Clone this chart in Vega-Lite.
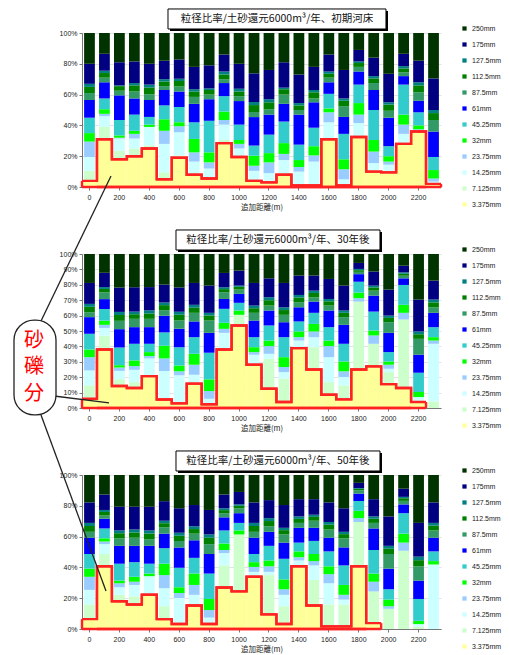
{
"$schema":"https://vega.github.io/schema/vega-lite/v6.json",
"background":"white",
"padding":{"left":13,"top":8,"right":4,"bottom":2},
"datasets":{"g":[
{"p":1,"d":0,"s01":4,"s02":6.5,"s03":9,"s04":10,"s05":5.5,"s06":10,"s07":11.5,"s08":4.5,"s09":4,"s10":2,"s11":13,"s12":20},
{"p":1,"d":100,"s01":31,"s02":8,"s03":7,"s04":1.5,"s05":3,"s06":7,"s07":10.5,"s08":3,"s09":3,"s10":1.5,"s11":11,"s12":13.5},
{"p":1,"d":200,"s01":18,"s02":5.5,"s03":8,"s04":0.5,"s05":1.5,"s06":10,"s07":16,"s08":3,"s09":3,"s10":0.5,"s11":15,"s12":19},
{"p":1,"d":300,"s01":20,"s02":5,"s03":6.5,"s04":3,"s05":2,"s06":10.5,"s07":10.5,"s08":4.5,"s09":4,"s10":1.5,"s11":14,"s12":18.5},
{"p":1,"d":400,"s01":25,"s02":2,"s03":12,"s04":0,"s05":1.5,"s06":5,"s07":11,"s08":3.7,"s09":4.3,"s10":2,"s11":13.5,"s12":20},
{"p":1,"d":500,"s01":5,"s02":4.5,"s03":18.5,"s04":8.5,"s05":7.5,"s06":9,"s07":10,"s08":2.5,"s09":3,"s10":1.5,"s11":12,"s12":18},
{"p":1,"d":600,"s01":19,"s02":1.5,"s03":15,"s04":4,"s05":2.5,"s06":10,"s07":10,"s08":3.3,"s09":3.5,"s10":1.5,"s11":12.5,"s12":17.2},
{"p":1,"d":700,"s01":8,"s02":1,"s03":7.5,"s04":6,"s05":8.7,"s06":10.8,"s07":12,"s08":4.5,"s09":3.5,"s10":1.5,"s11":14.5,"s12":22},
{"p":1,"d":800,"s01":5.5,"s02":0.5,"s03":6,"s04":4,"s05":6.5,"s06":20.5,"s07":14,"s08":3,"s09":3,"s10":1,"s11":15,"s12":21},
{"p":1,"d":900,"s01":28.5,"s02":2,"s03":10,"s04":3,"s05":5.5,"s06":10,"s07":8.5,"s08":2.5,"s09":3,"s10":2,"s11":11,"s12":14},
{"p":1,"d":1000,"s01":19.5,"s02":0.5,"s03":5,"s04":3,"s05":2.5,"s06":10,"s07":15.3,"s08":3.2,"s09":3,"s10":1.8,"s11":16.2,"s12":20},
{"p":1,"d":1100,"s01":4,"s02":0,"s03":6.5,"s04":3.3,"s05":6.5,"s06":6.6,"s07":18.5,"s08":3.3,"s09":4.5,"s10":2,"s11":18.6,"s12":26.2},
{"p":1,"d":1200,"s01":3,"s02":1,"s03":5,"s04":7,"s05":6,"s06":12,"s07":13,"s08":3.5,"s09":4.5,"s10":2,"s11":19,"s12":24},
{"p":1,"d":1300,"s01":8,"s02":1,"s03":8.5,"s04":4,"s05":7,"s06":14,"s07":11.5,"s08":6,"s09":3.5,"s10":1,"s11":16.5,"s12":19},
{"p":1,"d":1400,"s01":1,"s02":0.5,"s03":8.5,"s04":3,"s05":4.5,"s06":10,"s07":19.5,"s08":3,"s09":3,"s10":1.5,"s11":18.5,"s12":27},
{"p":1,"d":1500,"s01":1,"s02":0.5,"s03":15,"s04":4,"s05":6,"s06":12,"s07":16.5,"s08":2.5,"s09":4,"s10":1.5,"s11":15,"s12":22},
{"p":1,"d":1600,"s01":31,"s02":0,"s03":11,"s04":6.5,"s05":2.5,"s06":9.5,"s07":7.5,"s08":3,"s09":2.5,"s10":1.5,"s11":11,"s12":14},
{"p":1,"d":1700,"s01":1,"s02":0.5,"s03":3.5,"s04":6.5,"s05":6.5,"s06":16.5,"s07":11,"s08":7,"s09":3.5,"s10":1.5,"s11":18.5,"s12":24},
{"p":1,"d":1800,"s01":32.5,"s02":0.5,"s03":8.5,"s04":5.5,"s05":7.5,"s06":12,"s07":8.5,"s08":3,"s09":2.5,"s10":1,"s11":7.5,"s12":11},
{"p":1,"d":1900,"s01":10,"s02":1,"s03":4.5,"s04":7.5,"s05":7.5,"s06":19.5,"s07":13,"s08":4.5,"s09":3,"s10":1.5,"s11":12,"s12":16},
{"p":1,"d":2000,"s01":9.5,"s02":0.5,"s03":4.5,"s04":2,"s05":3.5,"s06":6.5,"s07":18.5,"s08":4.5,"s09":4,"s10":1.5,"s11":18.5,"s12":26.5},
{"p":1,"d":2100,"s01":28,"s02":0.5,"s03":6,"s04":6,"s05":6.5,"s06":19.5,"s07":5.5,"s08":2.5,"s09":2.5,"s10":1.5,"s11":8,"s12":13.5},
{"p":1,"d":2200,"s01":36,"s02":0,"s03":0.5,"s04":1,"s05":2.5,"s06":8.5,"s07":7.5,"s08":5.5,"s09":4.5,"s10":2,"s11":14,"s12":18},
{"p":1,"d":2300,"s01":2,"s02":0,"s03":1.5,"s04":2,"s05":5.5,"s06":8.5,"s07":16.5,"s08":7.5,"s09":4.5,"s10":2,"s11":20.5,"s12":29.5},
{"p":2,"d":0,"s01":6,"s02":8.7,"s03":9.7,"s04":8.6,"s05":5,"s06":10.2,"s07":10.8,"s08":3.2,"s09":3.5,"s10":1.9,"s11":13.6,"s12":18.8},
{"p":2,"d":100,"s01":38,"s02":9,"s03":5,"s04":2,"s05":2.7,"s06":7.6,"s07":6.4,"s08":4.4,"s09":2.2,"s10":1.2,"s11":9.3,"s12":12.2},
{"p":2,"d":200,"s01":14.3,"s02":4.4,"s03":5.4,"s04":2.2,"s05":1.5,"s06":11.5,"s07":11.9,"s08":5.4,"s09":3.8,"s10":2,"s11":15.8,"s12":21.8},
{"p":2,"d":300,"s01":13,"s02":3.8,"s03":8,"s04":2.4,"s05":3.7,"s06":10.8,"s07":10.8,"s08":5.4,"s09":3,"s10":1.7,"s11":15.8,"s12":21.6},
{"p":2,"d":400,"s01":20.7,"s02":0.5,"s03":11,"s04":1.5,"s05":2.6,"s06":5.4,"s07":10.8,"s08":5.4,"s09":3.5,"s10":2,"s11":15.1,"s12":21.5},
{"p":2,"d":500,"s01":5.5,"s02":0.8,"s03":17.7,"s04":8.2,"s05":8.2,"s06":8.7,"s07":10.8,"s08":3.6,"s09":3.3,"s10":1.7,"s11":11.6,"s12":19.9},
{"p":2,"d":600,"s01":3,"s02":1,"s03":17.2,"s04":2.6,"s05":3.8,"s06":11.9,"s07":11.9,"s08":5.4,"s09":3.7,"s10":2,"s11":15.8,"s12":21.7},
{"p":2,"d":700,"s01":15.8,"s02":0,"s03":5.8,"s04":6.5,"s05":7.1,"s06":10.8,"s07":10.2,"s08":5.6,"s09":3.3,"s10":1.9,"s11":14.2,"s12":18.8},
{"p":2,"d":800,"s01":2.4,"s02":0,"s03":3.6,"s04":5,"s05":7.6,"s06":17.3,"s07":12.9,"s08":8,"s09":3.3,"s10":1.7,"s11":17.7,"s12":20.5},
{"p":2,"d":900,"s01":38,"s02":0,"s03":10.8,"s04":2.6,"s05":3.9,"s06":9.1,"s07":6.4,"s08":4.4,"s09":2,"s10":1.2,"s11":9.3,"s12":12.3},
{"p":2,"d":1000,"s01":53.6,"s02":6.9,"s03":0,"s04":0,"s05":2.8,"s06":5,"s07":5.8,"s08":2.8,"s09":1.8,"s10":0.8,"s11":9.7,"s12":10.8},
{"p":2,"d":1100,"s01":28.1,"s02":0,"s03":6.5,"s04":1.7,"s05":3.2,"s06":6.5,"s07":10.8,"s08":5,"s09":3,"s10":1.7,"s11":14.7,"s12":18.8},
{"p":2,"d":1200,"s01":12.5,"s02":19.4,"s03":3.3,"s04":5,"s05":3.6,"s06":9.8,"s07":9.7,"s08":3.2,"s09":3.5,"s10":1.9,"s11":12.3,"s12":15.8},
{"p":2,"d":1300,"s01":3.9,"s02":15.1,"s03":4.3,"s04":3.3,"s05":6.4,"s06":13,"s07":9.7,"s08":4.8,"s09":3.1,"s10":1.8,"s11":15.8,"s12":18.8},
{"p":2,"d":1400,"s01":38.9,"s02":0,"s03":4.9,"s04":2.2,"s05":3.7,"s06":6.5,"s07":9.2,"s08":3.3,"s09":3,"s10":1.7,"s11":12.6,"s12":14},
{"p":2,"d":1500,"s01":25,"s02":14.5,"s03":6.5,"s04":3.7,"s05":4.9,"s06":7.2,"s07":7.3,"s08":2.8,"s09":2.8,"s10":1.5,"s11":9.8,"s12":14},
{"p":2,"d":1600,"s01":8.6,"s02":8.2,"s03":16.2,"s04":7.2,"s05":3.6,"s06":8.7,"s07":10.8,"s08":3.2,"s09":2.8,"s10":1.5,"s11":13,"s12":16.2},
{"p":2,"d":1700,"s01":5.6,"s02":9.1,"s03":5.4,"s04":3.7,"s05":6.4,"s06":11.5,"s07":12.3,"s08":5,"s09":2.8,"s10":1.5,"s11":16.2,"s12":20.5},
{"p":2,"d":1800,"s01":25,"s02":44.1,"s03":0,"s04":2.2,"s05":3.6,"s06":7.1,"s07":4.9,"s08":1.5,"s09":1.1,"s10":0.8,"s11":3.9,"s12":5.8},
{"p":2,"d":1900,"s01":27,"s02":14.7,"s03":0,"s04":5.4,"s05":3.2,"s06":12.3,"s07":10.4,"s08":3.2,"s09":2.1,"s10":1.2,"s11":9.1,"s12":11.4},
{"p":2,"d":2000,"s01":15.5,"s02":7.8,"s03":2.2,"s04":2.6,"s05":2.1,"s06":6.1,"s07":12.5,"s08":6.9,"s09":2.8,"s10":1.5,"s11":16.9,"s12":23.1},
{"p":2,"d":2100,"s01":13,"s02":44.5,"s03":0,"s04":4.3,"s05":5.2,"s06":12.9,"s07":4.3,"s08":1.7,"s09":1.3,"s10":0.9,"s11":4.3,"s12":7.6},
{"p":2,"d":2200,"s01":3.9,"s02":0,"s03":3.2,"s04":0,"s05":3.3,"s06":12.5,"s07":11.7,"s08":10.3,"s09":3,"s10":1.8,"s11":20.7,"s12":29.6},
{"p":2,"d":2300,"s01":0,"s02":4.3,"s03":37.4,"s04":2.1,"s05":2.2,"s06":6.5,"s07":9.3,"s08":3.6,"s09":3.2,"s10":1.8,"s11":12.3,"s12":17.3},
{"p":3,"d":0,"s01":6.4,"s02":9.5,"s03":9.5,"s04":8.5,"s05":5.3,"s06":9.5,"s07":10.6,"s08":3.8,"s09":3.8,"s10":2,"s11":13.3,"s12":17.8},
{"p":3,"d":100,"s01":40.7,"s02":8,"s03":6.4,"s04":1.7,"s05":2.1,"s06":6.4,"s07":6.3,"s08":2.1,"s09":2.3,"s10":1.3,"s11":10,"s12":12.7},
{"p":3,"d":200,"s01":18,"s02":4.2,"s03":4.9,"s04":2.6,"s05":1.7,"s06":11,"s07":11.6,"s08":4.9,"s09":3.3,"s10":1.8,"s11":15.4,"s12":20.6},
{"p":3,"d":300,"s01":15.9,"s02":5.3,"s03":7.4,"s04":2.1,"s05":3.2,"s06":9.5,"s07":10.6,"s08":5.3,"s09":3.4,"s10":1.9,"s11":14.8,"s12":20.6},
{"p":3,"d":400,"s01":22.2,"s02":0.5,"s03":11.6,"s04":0,"s05":1.7,"s06":6.4,"s07":11.6,"s08":4.3,"s09":3.7,"s10":2,"s11":15.4,"s12":20.6},
{"p":3,"d":500,"s01":6.4,"s02":8.4,"s03":11.7,"s04":8.5,"s05":7.4,"s06":10.1,"s07":9.4,"s08":4.2,"s09":2.6,"s10":1.6,"s11":12.7,"s12":17},
{"p":3,"d":600,"s01":3.2,"s02":0,"s03":16.9,"s04":3.2,"s05":3.8,"s06":12.7,"s07":13.2,"s08":4.2,"s09":3.4,"s10":1.9,"s11":15.9,"s12":21.6},
{"p":3,"d":700,"s01":15.3,"s02":0,"s03":6.9,"s04":6.4,"s05":7.4,"s06":10.2,"s07":11.4,"s08":4.3,"s09":3,"s10":1.8,"s11":13.8,"s12":19.5},
{"p":3,"d":800,"s01":3.2,"s02":0,"s03":4.2,"s04":4.9,"s05":7.2,"s06":16.5,"s07":12.7,"s08":6.4,"s09":4.2,"s10":2.1,"s11":15.9,"s12":22.7},
{"p":3,"d":900,"s01":26.9,"s02":14.4,"s03":8,"s04":2,"s05":4.2,"s06":8.5,"s07":8.5,"s08":2.7,"s09":2,"s10":1.2,"s11":8.9,"s12":12.7},
{"p":3,"d":1000,"s01":24.4,"s02":37,"s03":0,"s04":0,"s05":2.6,"s06":4.9,"s07":6.3,"s08":3.2,"s09":1.6,"s10":0.9,"s11":8.1,"s12":11},
{"p":3,"d":1100,"s01":33.9,"s02":0,"s03":3.2,"s04":3.2,"s05":3.1,"s06":5.3,"s07":10.6,"s08":3.8,"s09":3.8,"s10":2,"s11":13.3,"s12":17.8},
{"p":3,"d":1200,"s01":9.5,"s02":25.5,"s03":2.1,"s04":3.6,"s05":3.8,"s06":9.5,"s07":9.1,"s08":3.6,"s09":3.4,"s10":1.9,"s11":11.7,"s12":16.3},
{"p":3,"d":1300,"s01":3.2,"s02":11.6,"s03":7.4,"s04":3.6,"s05":6.4,"s06":13.4,"s07":10.5,"s08":5.3,"s09":2.8,"s10":1.5,"s11":14.8,"s12":19.5},
{"p":3,"d":1400,"s01":40.7,"s02":0,"s03":3.8,"s04":2.1,"s05":3.8,"s06":5.7,"s07":9.6,"s08":3.2,"s09":2.6,"s10":1.6,"s11":11.2,"s12":15.7},
{"p":3,"d":1500,"s01":15.3,"s02":16.5,"s03":9.5,"s04":2.8,"s05":4.6,"s06":8.5,"s07":8.5,"s08":4.6,"s09":2.5,"s10":1.4,"s11":10.1,"s12":15.7},
{"p":3,"d":1600,"s01":1.7,"s02":14.2,"s03":13.8,"s04":5.9,"s05":5.1,"s06":9.7,"s07":8.9,"s08":5.3,"s09":3.1,"s10":1.8,"s11":12.7,"s12":17.8},
{"p":3,"d":1700,"s01":1.7,"s02":14.2,"s03":3.2,"s04":3.1,"s05":6.4,"s06":12.7,"s07":11.7,"s08":5.9,"s09":2.7,"s10":1.5,"s11":15.3,"s12":21.6},
{"p":3,"d":1800,"s01":40.7,"s02":28.8,"s03":0,"s04":2.5,"s05":4.7,"s06":6.4,"s07":4.8,"s08":2.2,"s09":0.9,"s10":0.5,"s11":3.4,"s12":5.1},
{"p":3,"d":1900,"s01":3.8,"s02":20.6,"s03":0,"s04":6.3,"s05":5.3,"s06":15.3,"s07":14,"s08":3.6,"s09":2.7,"s10":1.5,"s11":11.2,"s12":15.7},
{"p":3,"d":2000,"s01":0,"s02":13.1,"s03":0,"s04":1.7,"s05":4.3,"s06":6.7,"s07":13.4,"s08":9.5,"s09":3.4,"s10":1.9,"s11":19.1,"s12":26.9},
{"p":3,"d":2100,"s01":0,"s02":50.8,"s03":0,"s04":5.3,"s05":5.8,"s06":13.3,"s07":5.7,"s08":2.3,"s09":1.7,"s10":0.9,"s11":5.3,"s12":8.9},
{"p":3,"d":2200,"s01":0,"s02":1.5,"s03":1.7,"s04":0,"s05":2.1,"s06":14.2,"s07":11.9,"s08":9.3,"s09":4,"s10":2.3,"s11":21.9,"s12":31.1},
{"p":3,"d":2300,"s01":0,"s02":0,"s03":41.9,"s04":0,"s05":2.2,"s06":6.3,"s07":8.9,"s08":4.7,"s09":3.1,"s10":1.8,"s11":13.3,"s12":17.8}
]},
"data":{"name":"g"},
"config":{
 "view":{"stroke":null},
 "axis":{"labelFont":"Liberation Sans","labelFontSize":7,"labelColor":"#222","titleFont":"Noto Sans CJK JP","titleFontSize":7.5,"titleFontWeight":"normal","titleColor":"#222","tickColor":"#777","domainColor":"#777","tickSize":3,"gridColor":"#d0d0d0","gridWidth":0.6},
 "legend":{"orient":"none","legendX":379,"legendY":-8,"padding":0,"labelFont":"Liberation Sans","labelFontSize":7,"labelColor":"#222","symbolType":"square","symbolSize":18,"symbolStrokeWidth":0,"rowPadding":8,"labelOffset":4,"title":null}
},
"spacing":67,
"bounds":"flush",
"resolve":{"scale":{"color":"independent"}},
"vconcat":[
{"width":359,"height":154,
 "resolve":{"scale":{"x":"independent","y":"independent"}},
 "layer":[
  {"transform":[{"filter":"datum.p == 1"},{"fold":["s01","s02","s03","s04","s05","s06","s07","s08","s09","s10","s11","s12"],"as":["k","v"]}],
   "mark":{"type":"bar"},
   "encoding":{
    "x":{"field":"d","type":"ordinal","scale":{"type":"band","domain":[0,100,200,300,400,500,600,700,800,900,1000,1100,1200,1300,1400,1500,1600,1700,1800,1900,2000,2100,2200,2300],"paddingInner":0.28,"paddingOuter":0.14},"axis":{"values":[0,200,400,600,800,1000,1200,1400,1600,1800,2000,2200],"labelAngle":0,"title":"追加距離(m)","labelPadding":3,"titlePadding":3}},
    "y":{"field":"v","type":"quantitative","stack":"normalize","axis":{"values":[0,0.2,0.4,0.6,0.8,1],"format":".0%","title":null,"labelPadding":2}},
    "color":{"field":"k","type":"nominal","scale":{"domain":["s12","s11","s10","s09","s08","s07","s06","s05","s04","s03","s02","s01"],"range":["#003300","#000080","#008080","#008000","#339966","#0000ff","#33cccc","#00ff00","#99ccff","#ccffff","#ccffcc","#ffff99"]},"legend":{"labelExpr":"['3.375mm','7.125mm','14.25mm','23.75mm','32mm','45.25mm','61mm','87.5mm','112.5mm','127.5mm','175mm','250mm'][toNumber(slice(datum.value,1))-1]"}},
    "order":{"field":"k","sort":"ascending"}}},
  {"transform":[{"filter":"datum.p == 1 && datum.s01 > 0"}],
   "mark":{"type":"bar","color":"#ffff99"},
   "encoding":{
    "x":{"field":"d","type":"ordinal","scale":{"type":"band","domain":[0,100,200,300,400,500,600,700,800,900,1000,1100,1200,1300,1400,1500,1600,1700,1800,1900,2000,2100,2200,2300],"paddingInner":0,"paddingOuter":0},"axis":null},
    "y":{"field":"s01","type":"quantitative","scale":{"domain":[0,100],"nice":false},"axis":null}}},
  {"transform":[{"filter":"datum.p == 1 && datum.s01 > 0"}],
   "mark":{"type":"line","color":"#ff2222","strokeWidth":2.4,"interpolate":"step-after"},
   "encoding":{
    "x":{"field":"d","type":"ordinal","bandPosition":0,"scale":{"type":"band","domain":[0,100,200,300,400,500,600,700,800,900,1000,1100,1200,1300,1400,1500,1600,1700,1800,1900,2000,2100,2200,2300],"paddingInner":0,"paddingOuter":0},"axis":null},
    "y":{"field":"s01","type":"quantitative","scale":{"domain":[0,100],"nice":false},"axis":null}}},
  {"transform":[{"filter":"datum.p == 1 && datum.s01 > 0"}],
   "mark":{"type":"line","color":"#ff2222","strokeWidth":2.4,"interpolate":"step-before"},
   "encoding":{
    "x":{"field":"d","type":"ordinal","bandPosition":1,"scale":{"type":"band","domain":[0,100,200,300,400,500,600,700,800,900,1000,1100,1200,1300,1400,1500,1600,1700,1800,1900,2000,2100,2200,2300],"paddingInner":0,"paddingOuter":0},"axis":null},
    "y":{"field":"s01","type":"quantitative","scale":{"domain":[0,100],"nice":false},"axis":null}}},
  {"transform":[{"filter":"datum.p == 1 && datum.s01 > 0"}],
   "mark":{"type":"line","color":"#ff2222","strokeWidth":2.4},
   "encoding":{
    "x":{"field":"d","type":"ordinal","bandPosition":0,"scale":{"type":"band","domain":[0,100,200,300,400,500,600,700,800,900,1000,1100,1200,1300,1400,1500,1600,1700,1800,1900,2000,2100,2200,2300],"paddingInner":0,"paddingOuter":0},"axis":null},
    "y":{"datum":0,"type":"quantitative","scale":{"domain":[0,100],"nice":false},"axis":null}}},
  {"transform":[{"filter":"datum.p == 1 && datum.s01 > 0"}],
   "mark":{"type":"line","color":"#ff2222","strokeWidth":2.4},
   "encoding":{
    "x":{"field":"d","type":"ordinal","bandPosition":1,"scale":{"type":"band","domain":[0,100,200,300,400,500,600,700,800,900,1000,1100,1200,1300,1400,1500,1600,1700,1800,1900,2000,2100,2200,2300],"paddingInner":0,"paddingOuter":0},"axis":null},
    "y":{"datum":0,"type":"quantitative","scale":{"domain":[0,100],"nice":false},"axis":null}}},
  {"transform":[{"filter":"datum.p == 1 && datum.d == 0"}],
   "mark":{"type":"rule","color":"#ff2222","strokeWidth":2.4},
   "encoding":{
    "x":{"field":"d","type":"ordinal","bandPosition":0,"scale":{"type":"band","domain":[0,100,200,300,400,500,600,700,800,900,1000,1100,1200,1300,1400,1500,1600,1700,1800,1900,2000,2100,2200,2300],"paddingInner":0,"paddingOuter":0},"axis":null},
    "y":{"field":"s01","type":"quantitative","scale":{"domain":[0,100],"nice":false},"axis":null},
    "y2":{"datum":0}}},
  {"transform":[{"filter":"datum.p == 1 && datum.d == 2300"}],
   "mark":{"type":"rule","color":"#ff2222","strokeWidth":2.4},
   "encoding":{
    "x":{"field":"d","type":"ordinal","bandPosition":1,"scale":{"type":"band","domain":[0,100,200,300,400,500,600,700,800,900,1000,1100,1200,1300,1400,1500,1600,1700,1800,1900,2000,2100,2200,2300],"paddingInner":0,"paddingOuter":0},"axis":null},
    "y":{"field":"s01","type":"quantitative","scale":{"domain":[0,100],"nice":false},"axis":null},
    "y2":{"datum":0}}},
  {"data":{"values":[{}]},
   "mark":{"type":"rect","color":"#000000"},
   "encoding":{
    "x":{"datum":538.3,"type":"quantitative","scale":{"domain":[-50,2350],"nice":false,"zero":false},"axis":null},
    "x2":{"datum":1995.6},
    "y":{"datum":114.3,"type":"quantitative","scale":{"domain":[0,100],"nice":false,"zero":false},"axis":null},
    "y2":{"datum":101.3}}},
  {"data":{"values":[{}]},
   "mark":{"type":"rect","fill":"#ffffff","stroke":"#000000","strokeWidth":1},
   "encoding":{
    "x":{"datum":524.9,"type":"quantitative","scale":{"domain":[-50,2350],"nice":false,"zero":false},"axis":null},
    "x2":{"datum":1982.2},
    "y":{"datum":115.6,"type":"quantitative","scale":{"domain":[0,100],"nice":false,"zero":false},"axis":null},
    "y2":{"datum":102.6}}},
  {"data":{"values":[{}]},
   "mark":{"type":"text","font":"Noto Sans CJK JP","fontSize":10.5,"color":"#111111","align":"center","baseline":"middle"},
   "encoding":{
    "x":{"datum":1253.6,"type":"quantitative","scale":{"domain":[-50,2350],"nice":false,"zero":false},"axis":null},
    "y":{"datum":109.1,"type":"quantitative","scale":{"domain":[0,100],"nice":false,"zero":false},"axis":null},
    "text":{"value":"粒径比率/土砂還元6000m³/年、初期河床"}}}
 ]},
{"width":359,"height":154,
 "resolve":{"scale":{"x":"independent","y":"independent"}},
 "layer":[
  {"transform":[{"filter":"datum.p == 2"},{"fold":["s01","s02","s03","s04","s05","s06","s07","s08","s09","s10","s11","s12"],"as":["k","v"]}],
   "mark":{"type":"bar"},
   "encoding":{
    "x":{"field":"d","type":"ordinal","scale":{"type":"band","domain":[0,100,200,300,400,500,600,700,800,900,1000,1100,1200,1300,1400,1500,1600,1700,1800,1900,2000,2100,2200,2300],"paddingInner":0.28,"paddingOuter":0.14},"axis":{"values":[0,200,400,600,800,1000,1200,1400,1600,1800,2000,2200],"labelAngle":0,"title":"追加距離(m)","labelPadding":3,"titlePadding":3}},
    "y":{"field":"v","type":"quantitative","stack":"normalize","axis":{"values":[0,0.1,0.2,0.3,0.4,0.5,0.6,0.7,0.8,0.9,1],"format":".0%","title":null,"labelPadding":2}},
    "color":{"field":"k","type":"nominal","scale":{"domain":["s12","s11","s10","s09","s08","s07","s06","s05","s04","s03","s02","s01"],"range":["#003300","#000080","#008080","#008000","#339966","#0000ff","#33cccc","#00ff00","#99ccff","#ccffff","#ccffcc","#ffff99"]},"legend":{"labelExpr":"['3.375mm','7.125mm','14.25mm','23.75mm','32mm','45.25mm','61mm','87.5mm','112.5mm','127.5mm','175mm','250mm'][toNumber(slice(datum.value,1))-1]"}},
    "order":{"field":"k","sort":"ascending"}}},
  {"transform":[{"filter":"datum.p == 2 && datum.s01 > 0"}],
   "mark":{"type":"bar","color":"#ffff99"},
   "encoding":{
    "x":{"field":"d","type":"ordinal","scale":{"type":"band","domain":[0,100,200,300,400,500,600,700,800,900,1000,1100,1200,1300,1400,1500,1600,1700,1800,1900,2000,2100,2200,2300],"paddingInner":0,"paddingOuter":0},"axis":null},
    "y":{"field":"s01","type":"quantitative","scale":{"domain":[0,100],"nice":false},"axis":null}}},
  {"transform":[{"filter":"datum.p == 2 && datum.s01 > 0"}],
   "mark":{"type":"line","color":"#ff2222","strokeWidth":2.4,"interpolate":"step-after"},
   "encoding":{
    "x":{"field":"d","type":"ordinal","bandPosition":0,"scale":{"type":"band","domain":[0,100,200,300,400,500,600,700,800,900,1000,1100,1200,1300,1400,1500,1600,1700,1800,1900,2000,2100,2200,2300],"paddingInner":0,"paddingOuter":0},"axis":null},
    "y":{"field":"s01","type":"quantitative","scale":{"domain":[0,100],"nice":false},"axis":null}}},
  {"transform":[{"filter":"datum.p == 2 && datum.s01 > 0"}],
   "mark":{"type":"line","color":"#ff2222","strokeWidth":2.4,"interpolate":"step-before"},
   "encoding":{
    "x":{"field":"d","type":"ordinal","bandPosition":1,"scale":{"type":"band","domain":[0,100,200,300,400,500,600,700,800,900,1000,1100,1200,1300,1400,1500,1600,1700,1800,1900,2000,2100,2200,2300],"paddingInner":0,"paddingOuter":0},"axis":null},
    "y":{"field":"s01","type":"quantitative","scale":{"domain":[0,100],"nice":false},"axis":null}}},
  {"transform":[{"filter":"datum.p == 2 && datum.s01 > 0"}],
   "mark":{"type":"line","color":"#ff2222","strokeWidth":2.4},
   "encoding":{
    "x":{"field":"d","type":"ordinal","bandPosition":0,"scale":{"type":"band","domain":[0,100,200,300,400,500,600,700,800,900,1000,1100,1200,1300,1400,1500,1600,1700,1800,1900,2000,2100,2200,2300],"paddingInner":0,"paddingOuter":0},"axis":null},
    "y":{"datum":0,"type":"quantitative","scale":{"domain":[0,100],"nice":false},"axis":null}}},
  {"transform":[{"filter":"datum.p == 2 && datum.s01 > 0"}],
   "mark":{"type":"line","color":"#ff2222","strokeWidth":2.4},
   "encoding":{
    "x":{"field":"d","type":"ordinal","bandPosition":1,"scale":{"type":"band","domain":[0,100,200,300,400,500,600,700,800,900,1000,1100,1200,1300,1400,1500,1600,1700,1800,1900,2000,2100,2200,2300],"paddingInner":0,"paddingOuter":0},"axis":null},
    "y":{"datum":0,"type":"quantitative","scale":{"domain":[0,100],"nice":false},"axis":null}}},
  {"transform":[{"filter":"datum.p == 2 && datum.d == 0"}],
   "mark":{"type":"rule","color":"#ff2222","strokeWidth":2.4},
   "encoding":{
    "x":{"field":"d","type":"ordinal","bandPosition":0,"scale":{"type":"band","domain":[0,100,200,300,400,500,600,700,800,900,1000,1100,1200,1300,1400,1500,1600,1700,1800,1900,2000,2100,2200,2300],"paddingInner":0,"paddingOuter":0},"axis":null},
    "y":{"field":"s01","type":"quantitative","scale":{"domain":[0,100],"nice":false},"axis":null},
    "y2":{"datum":0}}},
  {"transform":[{"filter":"datum.p == 2 && datum.d == 2200"}],
   "mark":{"type":"rule","color":"#ff2222","strokeWidth":2.4},
   "encoding":{
    "x":{"field":"d","type":"ordinal","bandPosition":1,"scale":{"type":"band","domain":[0,100,200,300,400,500,600,700,800,900,1000,1100,1200,1300,1400,1500,1600,1700,1800,1900,2000,2100,2200,2300],"paddingInner":0,"paddingOuter":0},"axis":null},
    "y":{"field":"s01","type":"quantitative","scale":{"domain":[0,100],"nice":false},"axis":null},
    "y2":{"datum":0}}},
  {"data":{"values":[{}]},
   "mark":{"type":"rect","color":"#000000"},
   "encoding":{
    "x":{"datum":591.8,"type":"quantitative","scale":{"domain":[-50,2350],"nice":false,"zero":false},"axis":null},
    "x2":{"datum":1955.5},
    "y":{"datum":114.3,"type":"quantitative","scale":{"domain":[0,100],"nice":false,"zero":false},"axis":null},
    "y2":{"datum":101.3}}},
  {"data":{"values":[{}]},
   "mark":{"type":"rect","fill":"#ffffff","stroke":"#000000","strokeWidth":1},
   "encoding":{
    "x":{"datum":578.4,"type":"quantitative","scale":{"domain":[-50,2350],"nice":false,"zero":false},"axis":null},
    "x2":{"datum":1942.1},
    "y":{"datum":115.6,"type":"quantitative","scale":{"domain":[0,100],"nice":false,"zero":false},"axis":null},
    "y2":{"datum":102.6}}},
  {"data":{"values":[{}]},
   "mark":{"type":"text","font":"Noto Sans CJK JP","fontSize":10.5,"color":"#111111","align":"center","baseline":"middle"},
   "encoding":{
    "x":{"datum":1260.3,"type":"quantitative","scale":{"domain":[-50,2350],"nice":false,"zero":false},"axis":null},
    "y":{"datum":109.1,"type":"quantitative","scale":{"domain":[0,100],"nice":false,"zero":false},"axis":null},
    "text":{"value":"粒径比率/土砂還元6000m³/年、30年後"}}}
 ]},
{"width":359,"height":154,
 "resolve":{"scale":{"x":"independent","y":"independent"}},
 "layer":[
  {"transform":[{"filter":"datum.p == 3"},{"fold":["s01","s02","s03","s04","s05","s06","s07","s08","s09","s10","s11","s12"],"as":["k","v"]}],
   "mark":{"type":"bar"},
   "encoding":{
    "x":{"field":"d","type":"ordinal","scale":{"type":"band","domain":[0,100,200,300,400,500,600,700,800,900,1000,1100,1200,1300,1400,1500,1600,1700,1800,1900,2000,2100,2200,2300],"paddingInner":0.28,"paddingOuter":0.14},"axis":{"values":[0,200,400,600,800,1000,1200,1400,1600,1800,2000,2200],"labelAngle":0,"title":"追加距離(m)","labelPadding":3,"titlePadding":3}},
    "y":{"field":"v","type":"quantitative","stack":"normalize","axis":{"values":[0,0.2,0.4,0.6,0.8,1],"format":".0%","title":null,"labelPadding":2}},
    "color":{"field":"k","type":"nominal","scale":{"domain":["s12","s11","s10","s09","s08","s07","s06","s05","s04","s03","s02","s01"],"range":["#003300","#000080","#008080","#008000","#339966","#0000ff","#33cccc","#00ff00","#99ccff","#ccffff","#ccffcc","#ffff99"]},"legend":{"labelExpr":"['3.375mm','7.125mm','14.25mm','23.75mm','32mm','45.25mm','61mm','87.5mm','112.5mm','127.5mm','175mm','250mm'][toNumber(slice(datum.value,1))-1]"}},
    "order":{"field":"k","sort":"ascending"}}},
  {"transform":[{"filter":"datum.p == 3 && datum.s01 > 0"}],
   "mark":{"type":"bar","color":"#ffff99"},
   "encoding":{
    "x":{"field":"d","type":"ordinal","scale":{"type":"band","domain":[0,100,200,300,400,500,600,700,800,900,1000,1100,1200,1300,1400,1500,1600,1700,1800,1900,2000,2100,2200,2300],"paddingInner":0,"paddingOuter":0},"axis":null},
    "y":{"field":"s01","type":"quantitative","scale":{"domain":[0,100],"nice":false},"axis":null}}},
  {"transform":[{"filter":"datum.p == 3 && datum.s01 > 0"}],
   "mark":{"type":"line","color":"#ff2222","strokeWidth":2.4,"interpolate":"step-after"},
   "encoding":{
    "x":{"field":"d","type":"ordinal","bandPosition":0,"scale":{"type":"band","domain":[0,100,200,300,400,500,600,700,800,900,1000,1100,1200,1300,1400,1500,1600,1700,1800,1900,2000,2100,2200,2300],"paddingInner":0,"paddingOuter":0},"axis":null},
    "y":{"field":"s01","type":"quantitative","scale":{"domain":[0,100],"nice":false},"axis":null}}},
  {"transform":[{"filter":"datum.p == 3 && datum.s01 > 0"}],
   "mark":{"type":"line","color":"#ff2222","strokeWidth":2.4,"interpolate":"step-before"},
   "encoding":{
    "x":{"field":"d","type":"ordinal","bandPosition":1,"scale":{"type":"band","domain":[0,100,200,300,400,500,600,700,800,900,1000,1100,1200,1300,1400,1500,1600,1700,1800,1900,2000,2100,2200,2300],"paddingInner":0,"paddingOuter":0},"axis":null},
    "y":{"field":"s01","type":"quantitative","scale":{"domain":[0,100],"nice":false},"axis":null}}},
  {"transform":[{"filter":"datum.p == 3 && datum.s01 > 0"}],
   "mark":{"type":"line","color":"#ff2222","strokeWidth":2.4},
   "encoding":{
    "x":{"field":"d","type":"ordinal","bandPosition":0,"scale":{"type":"band","domain":[0,100,200,300,400,500,600,700,800,900,1000,1100,1200,1300,1400,1500,1600,1700,1800,1900,2000,2100,2200,2300],"paddingInner":0,"paddingOuter":0},"axis":null},
    "y":{"datum":0,"type":"quantitative","scale":{"domain":[0,100],"nice":false},"axis":null}}},
  {"transform":[{"filter":"datum.p == 3 && datum.s01 > 0"}],
   "mark":{"type":"line","color":"#ff2222","strokeWidth":2.4},
   "encoding":{
    "x":{"field":"d","type":"ordinal","bandPosition":1,"scale":{"type":"band","domain":[0,100,200,300,400,500,600,700,800,900,1000,1100,1200,1300,1400,1500,1600,1700,1800,1900,2000,2100,2200,2300],"paddingInner":0,"paddingOuter":0},"axis":null},
    "y":{"datum":0,"type":"quantitative","scale":{"domain":[0,100],"nice":false},"axis":null}}},
  {"transform":[{"filter":"datum.p == 3 && datum.d == 0"}],
   "mark":{"type":"rule","color":"#ff2222","strokeWidth":2.4},
   "encoding":{
    "x":{"field":"d","type":"ordinal","bandPosition":0,"scale":{"type":"band","domain":[0,100,200,300,400,500,600,700,800,900,1000,1100,1200,1300,1400,1500,1600,1700,1800,1900,2000,2100,2200,2300],"paddingInner":0,"paddingOuter":0},"axis":null},
    "y":{"field":"s01","type":"quantitative","scale":{"domain":[0,100],"nice":false},"axis":null},
    "y2":{"datum":0}}},
  {"transform":[{"filter":"datum.p == 3 && datum.d == 1900"}],
   "mark":{"type":"rule","color":"#ff2222","strokeWidth":2.4},
   "encoding":{
    "x":{"field":"d","type":"ordinal","bandPosition":1,"scale":{"type":"band","domain":[0,100,200,300,400,500,600,700,800,900,1000,1100,1200,1300,1400,1500,1600,1700,1800,1900,2000,2100,2200,2300],"paddingInner":0,"paddingOuter":0},"axis":null},
    "y":{"field":"s01","type":"quantitative","scale":{"domain":[0,100],"nice":false},"axis":null},
    "y2":{"datum":0}}},
  {"data":{"values":[{}]},
   "mark":{"type":"rect","color":"#000000"},
   "encoding":{
    "x":{"datum":591.8,"type":"quantitative","scale":{"domain":[-50,2350],"nice":false,"zero":false},"axis":null},
    "x2":{"datum":1955.5},
    "y":{"datum":114.3,"type":"quantitative","scale":{"domain":[0,100],"nice":false,"zero":false},"axis":null},
    "y2":{"datum":101.3}}},
  {"data":{"values":[{}]},
   "mark":{"type":"rect","fill":"#ffffff","stroke":"#000000","strokeWidth":1},
   "encoding":{
    "x":{"datum":578.4,"type":"quantitative","scale":{"domain":[-50,2350],"nice":false,"zero":false},"axis":null},
    "x2":{"datum":1942.1},
    "y":{"datum":115.6,"type":"quantitative","scale":{"domain":[0,100],"nice":false,"zero":false},"axis":null},
    "y2":{"datum":102.6}}},
  {"data":{"values":[{}]},
   "mark":{"type":"text","font":"Noto Sans CJK JP","fontSize":10.5,"color":"#111111","align":"center","baseline":"middle"},
   "encoding":{
    "x":{"datum":1260.3,"type":"quantitative","scale":{"domain":[-50,2350],"nice":false,"zero":false},"axis":null},
    "y":{"datum":109.1,"type":"quantitative","scale":{"domain":[0,100],"nice":false,"zero":false},"axis":null},
    "text":{"value":"粒径比率/土砂還元6000m³/年、50年後"}}},
  {"data":{"values":[{}]},
   "mark":{"type":"rule","color":"#222222","strokeWidth":1.3},
   "encoding":{
    "x":{"datum":-324.1,"type":"quantitative","scale":{"domain":[-50,2350],"nice":false,"zero":false},"axis":null},
    "x2":{"datum":143.9},
    "y":{"datum":200,"type":"quantitative","scale":{"domain":[0,100],"nice":false,"zero":false},"axis":null},
    "y2":{"datum":294.2}}},
  {"data":{"values":[{}]},
   "mark":{"type":"rule","color":"#222222","strokeWidth":1.3},
   "encoding":{
    "x":{"datum":-237.2,"type":"quantitative","scale":{"domain":[-50,2350],"nice":false,"zero":false},"axis":null},
    "x2":{"datum":130.5},
    "y":{"datum":151.3,"type":"quantitative","scale":{"domain":[0,100],"nice":false,"zero":false},"axis":null},
    "y2":{"datum":146.8}}},
  {"data":{"values":[{}]},
   "mark":{"type":"rule","color":"#222222","strokeWidth":1.3},
   "encoding":{
    "x":{"datum":-324.1,"type":"quantitative","scale":{"domain":[-50,2350],"nice":false,"zero":false},"axis":null},
    "x2":{"datum":110.4},
    "y":{"datum":139.0,"type":"quantitative","scale":{"domain":[0,100],"nice":false,"zero":false},"axis":null},
    "y2":{"datum":24.7}}},
  {"data":{"values":[{}]},
   "mark":{"type":"rect","fill":"#ffffff","stroke":"#222222","strokeWidth":1.3,"cornerRadius":20},
   "encoding":{
    "x":{"datum":-504.6,"type":"quantitative","scale":{"domain":[-50,2350],"nice":false,"zero":false},"axis":null},
    "x2":{"datum":-223.8},
    "y":{"datum":200.6,"type":"quantitative","scale":{"domain":[0,100],"nice":false,"zero":false},"axis":null},
    "y2":{"datum":139.0}}},
  {"data":{"values":[{}]},
   "mark":{"type":"text","font":"Noto Sans CJK JP","fontSize":20,"lineHeight":26.5,"color":"#ff0000","align":"center","baseline":"middle"},
   "encoding":{
    "x":{"datum":-370.9,"type":"quantitative","scale":{"domain":[-50,2350],"nice":false,"zero":false},"axis":null},
    "y":{"datum":187.3,"type":"quantitative","scale":{"domain":[0,100],"nice":false,"zero":false},"axis":null},
    "text":{"value":["砂","礫","分"]}}}
 ]}
]
}
